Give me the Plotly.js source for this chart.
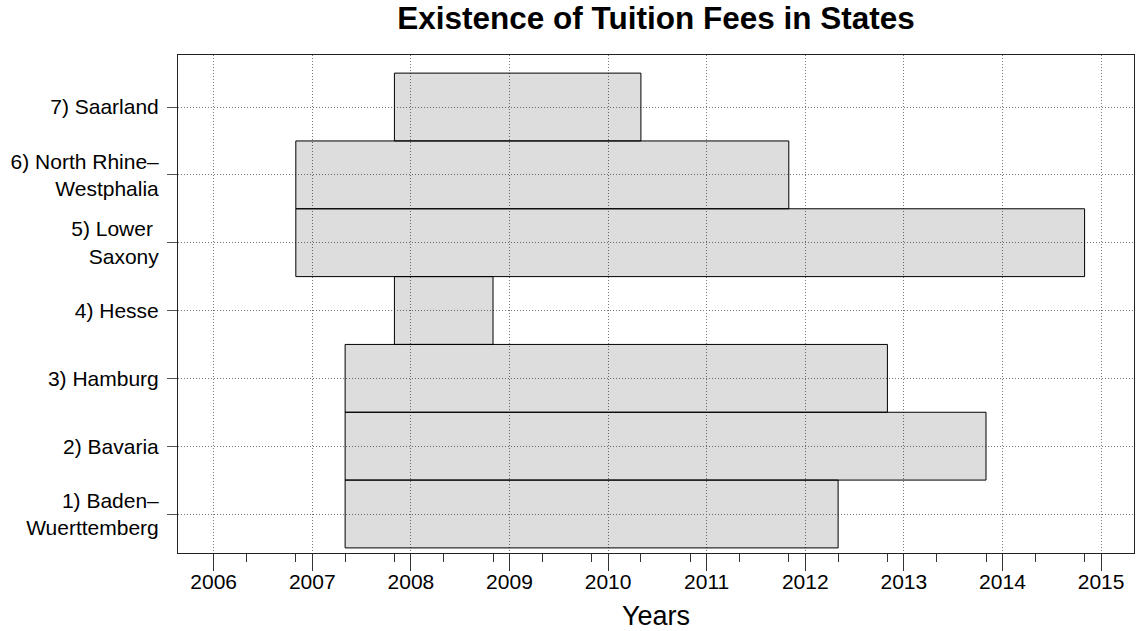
<!DOCTYPE html>
<html>
<head>
<meta charset="utf-8">
<script src="https://cdn.plot.ly/plotly-3.0.1.min.js"></script>
<style>html,body{margin:0;padding:0;background:#fff;} #chart{width:1137px;height:631px;}</style>
</head>
<body>
<div id="chart"></div>
<script>
// Data
const stateLabels = [
  "1) Baden\u2013<br>Wuerttemberg",
  "2) Bavaria",
  "3) Hamburg",
  "4) Hesse",
  "5) Lower\u00a0<br>Saxony",
  "6) North Rhine\u2013<br>Westphalia",
  "7) Saarland"
];
const statePositions = [1, 2, 3, 4, 5, 6, 7];
const feeStart = [2007.333, 2007.333, 2007.333, 2007.833, 2006.833, 2006.833, 2007.833];
const feeEnd   = [2012.333, 2013.833, 2012.833, 2008.833, 2014.833, 2011.833, 2010.333];
const yearTicks = [2006, 2007, 2008, 2009, 2010, 2011, 2012, 2013, 2014, 2015];
const semesterTicks = [2006.333, 2006.833, 2007.333, 2007.833, 2008.333, 2008.833, 2009.333, 2009.833,
  2010.333, 2010.833, 2011.333, 2011.833, 2012.333, 2012.833, 2013.333, 2013.833, 2014.333, 2014.833];

const duration = feeEnd.map((e, i) => e - feeStart[i]);

const font = "'Liberation Sans', Arial, Helvetica, sans-serif";

const trace = {
  type: 'bar',
  orientation: 'h',
  y: statePositions,
  base: feeStart,
  x: duration,
  width: 1,
  marker: { color: 'rgba(0,0,0,0.135)', line: { color: '#000', width: 1 } },
  hoverinfo: 'skip'
};

const layout = {
  width: 1137,
  height: 631,
  margin: { l: 178, r: 3, t: 55, b: 78 },
  paper_bgcolor: '#fff',
  plot_bgcolor: '#fff',
  showlegend: false,
  font: { family: font, color: '#000', size: 21 },
  title: {
    text: '<b>Existence of Tuition Fees in States</b>',
    font: { family: font, size: 31.5, color: '#000' },
    x: 0.5, xref: 'paper', xanchor: 'center',
    y: 0.972, yref: 'container', yanchor: 'middle'
  },
  xaxis: {
    range: [2005.638, 2015.334],
    tickmode: 'array',
    tickvals: yearTicks,
    ticktext: yearTicks.map(String),
    ticks: 'outside', ticklen: 17, tickcolor: '#333', tickwidth: 1,
    ticklabelstandoff: -7,
    tickfont: { family: font, size: 21, color: '#000' },
    showline: true, mirror: true, linecolor: '#222', linewidth: 1,
    showgrid: true, gridcolor: '#777', griddash: '1px,2px', gridwidth: 1,
    zeroline: false,
    minor: { tickmode: 'array', tickvals: semesterTicks, ticks: 'outside', ticklen: 8, tickcolor: '#333', tickwidth: 1, showgrid: false },
    title: { text: 'Years', font: { family: font, size: 27, color: '#000' }, standoff: 16 }
  },
  yaxis: {
    range: [0.425, 7.767],
    tickmode: 'array',
    tickvals: statePositions,
    ticktext: stateLabels,
    ticks: 'outside', ticklen: 10, tickcolor: '#555', tickwidth: 1,
    ticklabelstandoff: 4,
    tickfont: { family: font, size: 21, color: '#000' },
    showline: true, mirror: true, linecolor: '#222', linewidth: 1,
    showgrid: true, gridcolor: '#777', griddash: '1px,2px', gridwidth: 1,
    zeroline: false
  },
  bargap: 0
};

Plotly.newPlot('chart', [trace], layout, { displayModeBar: false, staticPlot: true });
</script>
</body>
</html>
